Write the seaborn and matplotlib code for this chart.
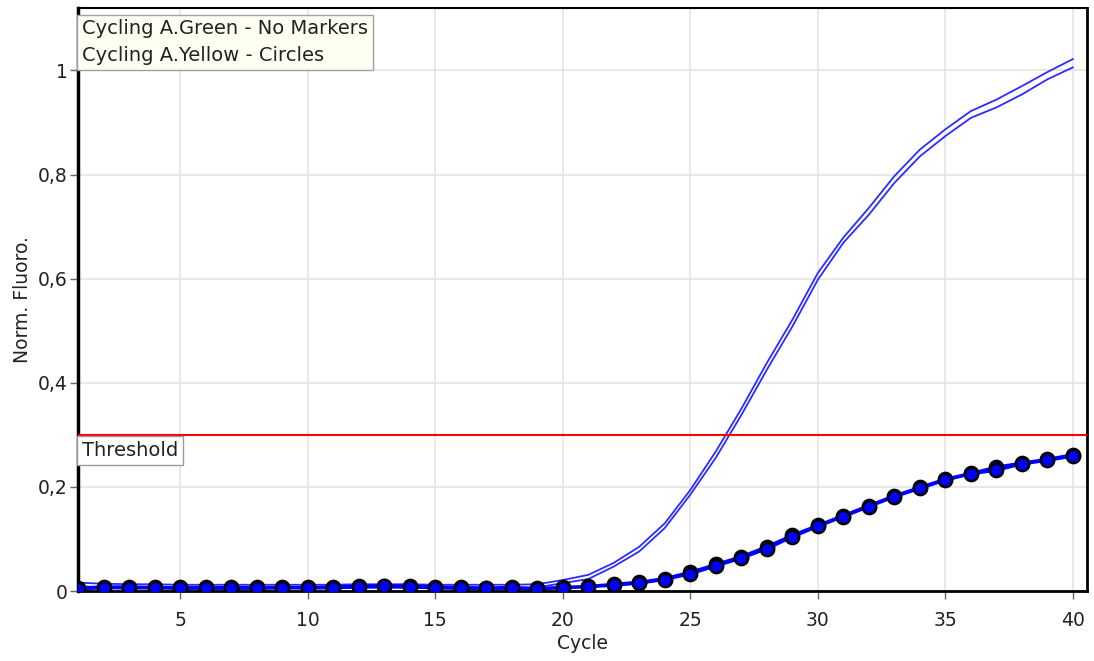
import numpy as np
import pandas as pd
import matplotlib
matplotlib.use("Agg")
import matplotlib.pyplot as plt
import seaborn as sns

cycles = list(range(1, 41))

# Cycling A.Green (two replicates, drawn without markers)
green_a = [0.016, 0.014, 0.013, 0.013, 0.012, 0.012, 0.012, 0.012, 0.012, 0.012,
           0.012, 0.013, 0.013, 0.013, 0.012, 0.012, 0.012, 0.012, 0.013, 0.021,
           0.031, 0.054, 0.085, 0.130, 0.194, 0.268, 0.350, 0.438, 0.521, 0.611,
           0.679, 0.736, 0.797, 0.848, 0.887, 0.922, 0.944, 0.970, 0.997, 1.022]
green_b = [0.010, 0.006, 0.005, 0.005, 0.005, 0.005, 0.005, 0.005, 0.005, 0.005,
           0.005, 0.006, 0.006, 0.006, 0.005, 0.005, 0.005, 0.005, 0.007, 0.015,
           0.023, 0.047, 0.076, 0.121, 0.185, 0.256, 0.338, 0.425, 0.508, 0.598,
           0.669, 0.723, 0.784, 0.835, 0.874, 0.909, 0.929, 0.954, 0.983, 1.006]

# Cycling A.Yellow (two replicates, drawn with circles)
yellow_a = [0.006, 0.008, 0.008, 0.007, 0.007, 0.007, 0.007, 0.007, 0.007, 0.007,
            0.008, 0.010, 0.010, 0.010, 0.008, 0.007, 0.006, 0.007, 0.005, 0.007,
            0.009, 0.013, 0.017, 0.024, 0.036, 0.051, 0.066, 0.085, 0.107, 0.126,
            0.145, 0.164, 0.183, 0.199, 0.215, 0.226, 0.238, 0.246, 0.253, 0.262]
yellow_b = [0.004, 0.006, 0.006, 0.006, 0.005, 0.005, 0.005, 0.005, 0.006, 0.006,
            0.006, 0.008, 0.009, 0.008, 0.006, 0.005, 0.005, 0.005, 0.004, 0.006,
            0.008, 0.011, 0.015, 0.022, 0.033, 0.048, 0.063, 0.081, 0.104, 0.124,
            0.143, 0.162, 0.181, 0.197, 0.213, 0.225, 0.232, 0.244, 0.251, 0.259]

threshold = 0.3
x_ticks = [5, 10, 15, 20, 25, 30, 35, 40]
y_ticks = [0, 0.2, 0.4, 0.6, 0.8, 1.0]
y_tick_labels = ["0", "0,2", "0,4", "0,6", "0,8", "1"]

legend_lines = ["Cycling A.Green - No Markers", "Cycling A.Yellow - Circles"]

sns.set_style("whitegrid", {"grid.color": "#e4e4e4", "axes.edgecolor": "black"})
plt.rcParams["font.family"] = ["DejaVu Sans"]
plt.rcParams["font.size"] = 13.5

fig = plt.figure(figsize=(10.94, 6.61), dpi=100)
ax = fig.add_axes([0.0713, 0.1059, 0.9223, 0.882])

line_blue = "#2b2bff"
for vals in (green_a, green_b):
    sns.lineplot(x=cycles, y=vals, ax=ax, color=line_blue, linewidth=1.3,
                 estimator=None, zorder=3)

for vals in (yellow_a, yellow_b):
    sns.lineplot(x=cycles, y=vals, ax=ax, color="#0000ff", linewidth=2.2,
                 marker="o", markersize=9.5, markerfacecolor="#0000ff",
                 markeredgecolor="black", markeredgewidth=1.8,
                 estimator=None, zorder=4)

ax.axhline(threshold, color="#ff0000", linewidth=1.5, zorder=5)
ax.text(1.15, threshold - 0.012, "Threshold", ha="left", va="top", fontsize=14,
        color="#222222", zorder=6,
        bbox=dict(boxstyle="square,pad=0.24", facecolor="white",
                  edgecolor="#9a9a9a", linewidth=1))

ax.text(1.17, 1.098, "\n".join(legend_lines), ha="left", va="top", fontsize=14,
        color="#222222", linespacing=1.5, zorder=6,
        bbox=dict(boxstyle="square,pad=0.25", facecolor="#fffff4",
                  edgecolor="#a0a0a0", linewidth=1))

ax.set_xlim(1, 40.55)
ax.set_ylim(0, 1.12)
ax.set_xticks(x_ticks)
ax.set_yticks(y_ticks)
ax.set_yticklabels(y_tick_labels)
ax.tick_params(axis="both", which="major", length=5.5, width=1, color="#666666",
               labelsize=13.5, labelcolor="#222222", left=True, bottom=True)
ax.tick_params(axis="x", pad=9)
ax.tick_params(axis="y", pad=2)
ax.grid(True, color="#e4e4e4", linewidth=1.2)
ax.set_axisbelow(True)

for side, lw in (("left", 2.5), ("bottom", 2.0), ("top", 1.5), ("right", 2.0)):
    ax.spines[side].set_visible(True)
    ax.spines[side].set_color("black")
    ax.spines[side].set_linewidth(lw)

ax.set_xlabel("Cycle", fontsize=13.5, color="#222222", labelpad=3)
ax.set_ylabel("Norm. Fluoro.", fontsize=13.5, color="#222222", labelpad=4)

fig.savefig("out.png", dpi=100, facecolor="white")
